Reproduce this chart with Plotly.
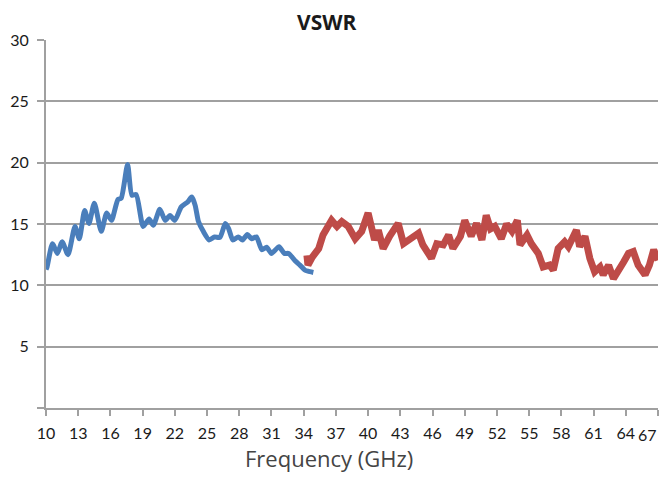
import plotly.graph_objects as go

# Blue segment (lower band)
blue_f = [10.0, 10.1, 10.6, 11.05, 11.5, 12.05, 12.7, 13.1, 13.6, 14.0, 14.5, 15.15, 15.65, 16.1, 16.7, 17.0,
          17.6, 18.0, 18.4, 19.05, 19.6, 20.0, 20.6, 21.1, 21.55, 22.0, 22.6, 23.2, 23.5, 23.6, 23.9, 24.2,
          24.65, 25.2, 25.7, 26.2, 26.7, 27.0, 27.4, 27.9, 28.3, 28.75, 29.15, 29.6, 30.1, 30.55, 31.0,
          31.7, 32.2, 32.6, 33.2, 33.65, 34.1, 34.4, 34.9]
blue_v = [11.3, 11.5, 13.4, 12.6, 13.55, 12.5, 14.8, 13.8, 16.1, 15.05, 16.7, 14.4, 15.9, 15.3, 17.0, 17.1,
          19.85, 17.35, 17.4, 14.8, 15.4, 14.9, 16.2, 15.3, 15.7, 15.3, 16.4, 16.8, 17.15, 17.2, 16.5, 15.2,
          14.4, 13.7, 13.95, 13.9, 15.05, 14.65, 13.7, 13.95, 13.7, 14.15, 13.8, 13.95, 12.9, 13.1, 12.6,
          13.15, 12.6, 12.6, 12.0, 11.65, 11.25, 11.15, 11.05]

# Red segment (upper band)
red_f = [34.3, 34.4, 34.8, 35.4, 35.8, 36.2, 36.6, 37.1, 37.55, 38.15, 38.8, 39.4, 40.0, 40.3, 40.6, 40.95,
         41.4, 42.0, 42.8, 43.3, 43.9, 44.7, 45.1, 45.9, 46.4, 47.0, 47.5, 47.9, 48.6, 49.0, 49.6, 50.1,
         50.6, 51.0, 51.4, 51.8, 52.4, 52.9, 53.4, 53.9, 54.15, 54.8, 55.2, 55.85, 56.3, 56.9, 57.25, 57.7,
         58.3, 58.65, 59.4, 59.7, 60.2, 60.65, 61.1, 61.6, 61.9, 62.4, 62.85, 63.3, 63.8, 64.25, 64.7,
         65.15, 65.8, 66.2, 66.6, 67.0]
red_v = [12.45, 11.65, 12.3, 13.0, 14.1, 14.6, 15.3, 14.8, 15.2, 14.8, 13.8, 14.4, 15.9, 14.8, 13.7, 14.5,
         13.0, 14.0, 15.05, 13.4, 13.7, 14.25, 13.3, 12.2, 13.4, 13.3, 14.1, 13.0, 14.0, 15.3, 14.0, 15.05,
         13.7, 15.7, 14.6, 14.8, 13.8, 15.0, 14.4, 15.3, 13.3, 14.1, 13.4, 12.6, 11.5, 11.65, 11.25, 13.0,
         13.55, 13.15, 14.5, 13.15, 14.0, 12.2, 11.1, 11.5, 10.85, 11.65, 10.55, 11.1, 11.9, 12.6, 12.75,
         11.65, 10.85, 11.65, 12.9, 12.05]

x_ticks = list(range(10, 68, 3))
x_labels = [str(v) for v in x_ticks]
y_ticks = [0, 5, 10, 15, 20, 25, 30]
y_labels = ["", "5", "10", "15", "20", "25", "30"]

fig = go.Figure()
fig.add_trace(go.Scatter(x=blue_f, y=blue_v, mode="lines",
                         line=dict(color="#4A7EBB", width=5, shape="spline", smoothing=0.6),
                         showlegend=False))
fig.add_trace(go.Scatter(x=red_f, y=red_v, mode="lines",
                         line=dict(color="#BE4B48", width=7),
                         showlegend=False))

# page has an 8px body margin, so the figure is drawn 8px in from the top-left;
# keep the page within the window (no scrollbars)
OFF = 8
W, H = 668 - 2 * OFF, 481 - 2 * OFF
L, T = 46 - OFF, 40 - OFF
R = W - (658 - OFF)
B = H - (408 - OFF)
pw, ph = W - L - R, H - T - B


def px_to_paper(px_page, py_page):
    px, py = px_page - OFF, py_page - OFF
    return (px - L) / pw, (H - py - B) / ph


tx, ty = px_to_paper(327, 22)
ax_, ay_ = px_to_paper(329, 458)
lx, ly = px_to_paper(660, 434)   # last x tick label, kept inside the page edge

tick_font = dict(size=16, family="Lato, Open Sans, sans-serif", color="#1a1a1a")
shown_x_labels = x_labels[:-1] + [""]
fig.update_layout(
    width=W, height=H,
    margin=dict(l=L, r=R, t=T, b=B, autoexpand=False),
    paper_bgcolor="white", plot_bgcolor="white",
    font=dict(family="Lato, Open Sans, sans-serif", color="#222222"),
    showlegend=False,
    xaxis=dict(range=[10, 67], tickvals=x_ticks, ticktext=shown_x_labels,
               showgrid=False, zeroline=False, showline=True, linecolor="#A0A0A0", linewidth=2,
               ticks="outside", ticklen=6, tickcolor="#A0A0A0", tickwidth=1.5, automargin=False,
               ticklabeloverflow="allow", ticklabelstandoff=4, tickfont=tick_font),
    yaxis=dict(range=[0, 30], tickvals=y_ticks, ticktext=y_labels,
               showgrid=True, gridcolor="#A0A0A0", gridwidth=1.5, zeroline=False,
               showline=True, linecolor="#A0A0A0", linewidth=2, automargin=False,
               ticks="outside", ticklen=7, tickcolor="#A0A0A0", tickwidth=1.5,
               ticklabeloverflow="allow", ticklabelstandoff=5, tickfont=tick_font),
    annotations=[
        dict(text="<b>VSWR</b>", x=tx, y=ty, xref="paper", yref="paper", showarrow=False,
             xanchor="center", yanchor="middle",
             font=dict(size=21, family="Open Sans, sans-serif", color="#1a1a1a")),
        dict(text="Frequency (GHz)", x=ax_, y=ay_, xref="paper", yref="paper", showarrow=False,
             xanchor="center", yanchor="middle",
             font=dict(size=22, family="Open Sans, sans-serif", color="#444444")),
        dict(text=x_labels[-1], x=lx, y=ly, xref="paper", yref="paper", showarrow=False,
             xanchor="right", yanchor="middle", xshift=-1, font=tick_font),
    ],
)

fig.write_html("out.html")
